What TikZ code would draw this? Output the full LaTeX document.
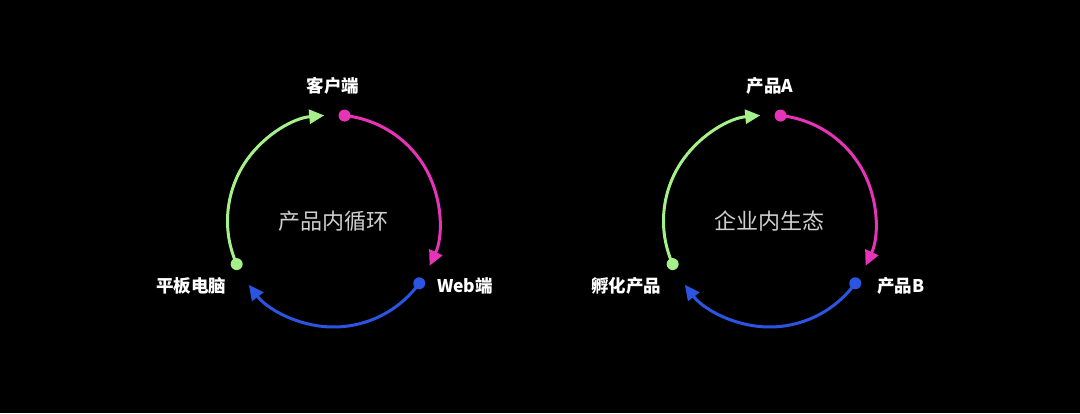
\documentclass[tikz,border=0pt]{standalone}
\usepackage{fontspec}
\setmainfont{Noto Sans CJK SC}
\usetikzlibrary{arrows.meta}
\definecolor{loopgreen}{HTML}{A6F08A}
\definecolor{loopmagenta}{HTML}{E633B8}
\definecolor{loopblue}{HTML}{2B55E0}
\definecolor{hubgray}{HTML}{CFCFCF}
\tikzset{
  hubdot/.style={circle, inner sep=0pt, minimum size=12pt},
  flow/.style={line width=3pt, -{Triangle[length=15pt, width=14pt]}},
  lbl/.style={text=white, font=\fontsize{17.5}{20}\selectfont\bfseries},
  hub/.style={text=hubgray, font=\fontsize{22}{26}\selectfont}
}

\begin{document}
\begin{tikzpicture}[x=1pt, y=1pt]
  \fill[black] (0,0) rectangle (1080,413);
  \useasboundingbox (0,0) rectangle (1080,413);

  % left cycle
  \coordinate (lc) at (333.5,192);
  \node[hub] (lhub) at (lc) {产品内循环};
  \node[hubdot, fill=loopmagenta] (lA) at ([shift={(84:106)}]lc) {};
  \node[hubdot, fill=loopblue] (lB) at ([shift={(-36:106)}]lc) {};
  \node[hubdot, fill=loopgreen] (lC) at ([shift={(204:106)}]lc) {};
  \draw[flow, loopmagenta] (lA.center) arc[start angle=84, end angle=-25, radius=106];
  \draw[flow, loopblue] (lB.center) arc[start angle=-36, end angle=-143, radius=106];
  \draw[flow, loopgreen] (lC.center) arc[start angle=204, end angle=95, radius=106];
  \node[lbl] (lAt) at (333,327) {客户端};
  \node[lbl] (lBt) at (465,127) {Web端};
  \node[lbl] (lCt) at (191,127) {平板电脑};

  % right cycle
  \coordinate (rc) at (769.5,192);
  \node[hub] (rhub) at (rc) {企业内生态};
  \node[hubdot, fill=loopmagenta] (rA) at ([shift={(84:106)}]rc) {};
  \node[hubdot, fill=loopblue] (rB) at ([shift={(-36:106)}]rc) {};
  \node[hubdot, fill=loopgreen] (rC) at ([shift={(204:106)}]rc) {};
  \draw[flow, loopmagenta] (rA.center) arc[start angle=84, end angle=-25, radius=106];
  \draw[flow, loopblue] (rB.center) arc[start angle=-36, end angle=-143, radius=106];
  \draw[flow, loopgreen] (rC.center) arc[start angle=204, end angle=95, radius=106];
  \node[lbl] (rAt) at (770,327) {产品A};
  \node[lbl] (rBt) at (901,127) {产品B};
  \node[lbl] (rCt) at (626,127) {孵化产品};
\end{tikzpicture}
\end{document}
